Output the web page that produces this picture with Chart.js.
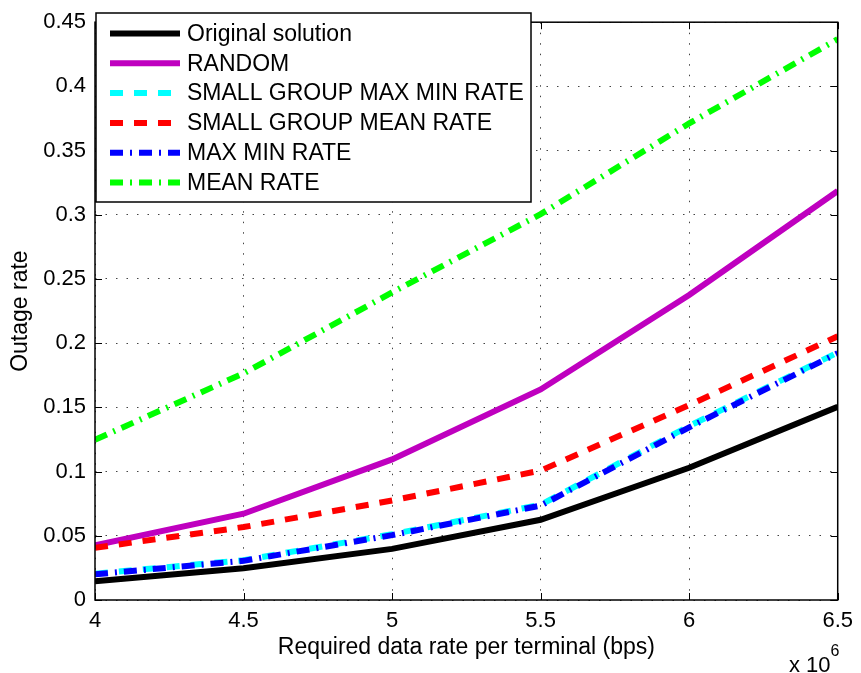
<!DOCTYPE html>
<html><head><meta charset="utf-8">
<script src="https://cdn.jsdelivr.net/npm/chart.js@4/dist/chart.umd.min.js"></script>
<style>html,body{margin:0;padding:0;background:#fff}</style>
</head><body>
<canvas id="c" width="861" height="673" style="display:block;width:861px;height:673px"></canvas>
<script>
// ---- data ----
const xValues = [4, 4.5, 5, 5.5, 6, 6.5];
const xTicks = [4, 4.5, 5, 5.5, 6, 6.5];
const xTickLabels = ['4', '4.5', '5', '5.5', '6', '6.5'];
const yTicks = [0, 0.05, 0.1, 0.15, 0.2, 0.25, 0.3, 0.35, 0.4, 0.45];
const yTickLabels = ['0', '0.05', '0.1', '0.15', '0.2', '0.25', '0.3', '0.35', '0.4', '0.45'];
const seriesNames = ['Original solution', 'RANDOM', 'SMALL GROUP MAX MIN RATE', 'SMALL GROUP MEAN RATE', 'MAX MIN RATE', 'MEAN RATE'];
const originalSolution = [0.0145, 0.0247, 0.0398, 0.0625, 0.103, 0.1505];
const randomRate = [0.0425, 0.0672, 0.1095, 0.164, 0.2375, 0.3186];
const smallGroupMaxMin = [0.0205, 0.031, 0.0512, 0.0742, 0.1355, 0.1928];
const smallGroupMean = [0.0407, 0.0568, 0.0775, 0.1008, 0.1518, 0.2054];
const maxMinRate = [0.0200, 0.0305, 0.0505, 0.0735, 0.1345, 0.1922];
const meanRate = [0.1248, 0.1765, 0.2395, 0.3005, 0.3712, 0.4368];
const xTitle = 'Required data rate per terminal (bps)';
const yTitle = 'Outage rate';

const FONT = '"Liberation Sans", Arial, Helvetica, sans-serif';
const seriesValues = [originalSolution, randomRate, smallGroupMaxMin, smallGroupMean, maxMinRate, meanRate];
const seriesColors = ['#000000', '#BF00BF', '#00FFFF', '#FF0000', '#0000FF', '#00FF00'];
const seriesDash = [[], [], [13, 11], [13, 11], [13, 7, 2, 7], [13, 7, 2, 7]];

const datasets = seriesNames.map((name, i) => ({
  label: name,
  data: xValues.map((x, j) => ({x: x, y: seriesValues[i][j]})),
  borderColor: seriesColors[i],
  backgroundColor: seriesColors[i],
  borderWidth: 6,
  borderDash: seriesDash[i],
  pointRadius: 0,
  pointHoverRadius: 0,
  tension: 0,
  fill: false,
  order: 10 - i
}));

const matlabPlugin = {
  id: 'matlab',
  afterDraw(chart) {
    const ctx = chart.ctx;
    const a = chart.chartArea;
    const xs = chart.scales.x, ys = chart.scales.y;
    ctx.save();
    // box
    ctx.setLineDash([]);
    ctx.strokeStyle = '#000';
    ctx.lineWidth = 1.5;
    ctx.strokeRect(a.left, a.top, a.right - a.left, a.bottom - a.top);
    // inner ticks
    ctx.lineWidth = 1;
    ctx.beginPath();
    xTicks.forEach(v => {
      const px = Math.round(xs.getPixelForValue(v)) + 0.5;
      ctx.moveTo(px, a.bottom); ctx.lineTo(px, a.bottom - 7);
      ctx.moveTo(px, a.top); ctx.lineTo(px, a.top + 7);
    });
    yTicks.forEach(v => {
      const py = Math.round(ys.getPixelForValue(v)) + 0.5;
      ctx.moveTo(a.left, py); ctx.lineTo(a.left + 7, py);
      ctx.moveTo(a.right, py); ctx.lineTo(a.right - 7, py);
    });
    ctx.stroke();
    // legend
    const lx = 96, ly = 13, lw = 435, lh = 189;
    ctx.fillStyle = '#fff';
    ctx.fillRect(lx, ly, lw, lh);
    ctx.strokeStyle = '#000';
    ctx.lineWidth = 1.5;
    ctx.strokeRect(lx, ly, lw, lh);
    ctx.font = '23px ' + FONT;
    ctx.textBaseline = 'middle';
    ctx.textAlign = 'left';
    chart.data.datasets.forEach((ds, i) => {
      const y = 33.5 + i * 29.8;
      ctx.beginPath();
      ctx.setLineDash(ds.borderDash || []);
      ctx.lineDashOffset = 0;
      ctx.strokeStyle = ds.borderColor;
      ctx.lineWidth = 6;
      ctx.lineCap = 'butt';
      ctx.moveTo(110, y); ctx.lineTo(180, y);
      ctx.stroke();
      ctx.setLineDash([]);
      ctx.fillStyle = '#000';
      ctx.fillText(ds.label, 187, y + 1);
    });
    // exponent label
    ctx.fillStyle = '#000';
    ctx.font = '22px ' + FONT;
    ctx.textBaseline = 'alphabetic';
    ctx.fillText('x 10', 789, 672);
    const w = ctx.measureText('x 10').width;
    ctx.font = '16px ' + FONT;
    ctx.fillText('6', 789 + w, 656);
    ctx.restore();
  }
};

new Chart(document.getElementById('c'), {
  type: 'line',
  data: { datasets: datasets },
  options: {
    responsive: false,
    animation: false,
    devicePixelRatio: 1,
    layout: { padding: { top: 11, right: 20, left: 0, bottom: 0 } },
    plugins: { legend: { display: false }, tooltip: { enabled: false }, title: { display: false } },
    scales: {
      x: {
        type: 'linear',
        min: 4, max: 6.5,
        afterBuildTicks: (axis) => { axis.ticks = xTicks.map(v => ({value: v})); },
        afterFit: (axis) => { axis.height = 73; },
        ticks: {
          callback: (v) => { const k = xTicks.indexOf(v); return k >= 0 ? xTickLabels[k] : ''; },
          font: { family: FONT, size: 22 }, color: '#000', padding: 8, maxRotation: 0, autoSkip: false
        },
        grid: { color: '#444', lineWidth: 1, drawTicks: false },
        border: { display: false, dash: [1.5, 9] },
        title: { display: true, text: xTitle, font: { family: FONT, size: 23 }, color: '#000', padding: { top: 0, bottom: 12 } }
      },
      y: {
        type: 'linear',
        min: 0, max: 0.45,
        afterBuildTicks: (axis) => { axis.ticks = yTicks.map(v => ({value: v})); },
        afterFit: (axis) => { axis.width = 95; },
        ticks: {
          callback: (v) => { const k = yTicks.findIndex(t => Math.abs(t - v) < 1e-9); return k >= 0 ? yTickLabels[k] : ''; },
          font: { family: FONT, size: 22 }, color: '#000', padding: 9, autoSkip: false
        },
        grid: { color: '#444', lineWidth: 1, drawTicks: false },
        border: { display: false, dash: [1.5, 9] },
        title: { display: true, text: yTitle, font: { family: FONT, size: 23 }, color: '#000', padding: { top: 7, bottom: 0 } }
      }
    }
  },
  plugins: [matlabPlugin]
});
</script>
</body></html>
